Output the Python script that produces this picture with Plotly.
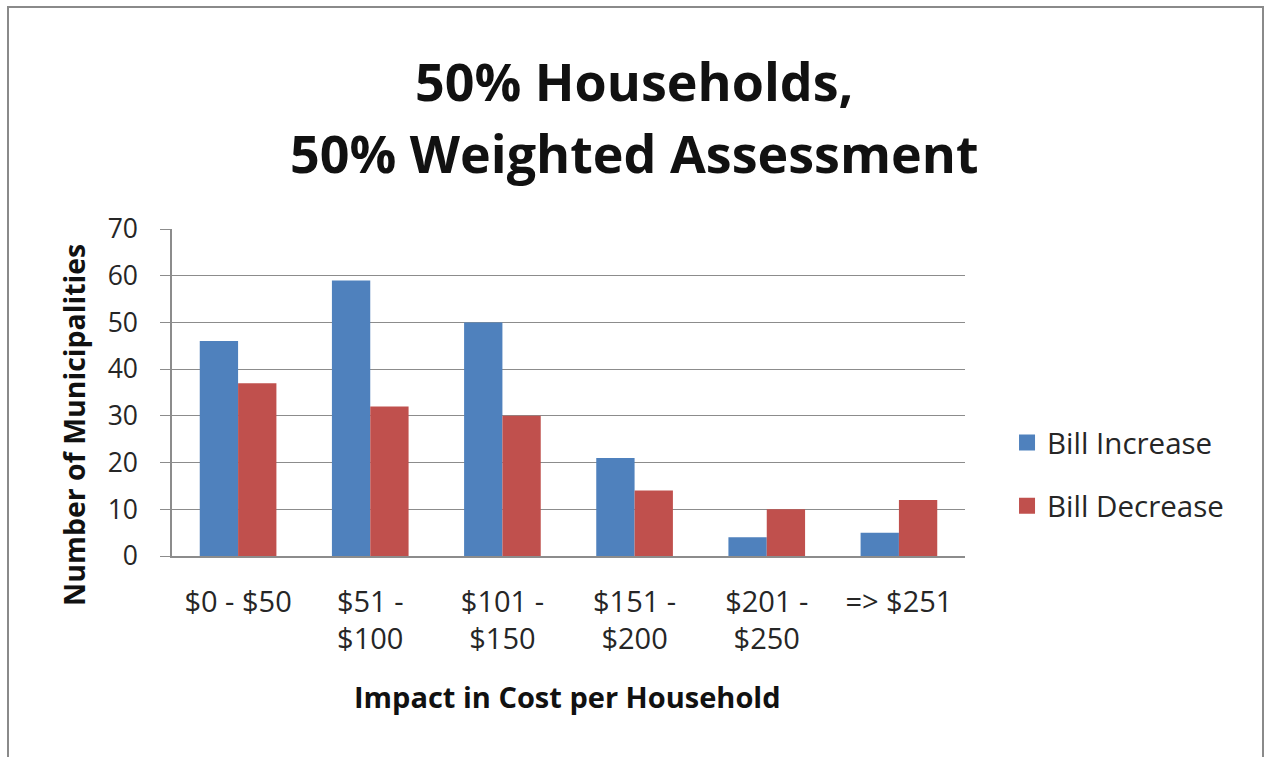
import plotly.graph_objects as go

# Cost-impact bins and municipality counts
categories = ["$0 - $50", "$51 -<br>$100", "$101 -<br>$150", "$151 -<br>$200", "$201 -<br>$250", "=> $251"]
bill_increase = [46, 59, 50, 21, 4, 5]
bill_decrease = [37, 32, 30, 14, 10, 12]
y_ticks = [0, 10, 20, 30, 40, 50, 60, 70]
series_names = ["Bill Increase", "Bill Decrease"]

FONT = "Open Sans"
BLUE = "#4F81BD"
RED = "#C0504D"
GRID = "#8C8C8C"
TEXT = "#262626"

# plot area in pixels: x 172..965, y 229..556
PL, PR, PT, PB = 172, 965, 229, 556


def px_x(x):
    return (x - PL) / (PR - PL)


def px_y(y):
    return (PB - y) / (PB - PT)


fig = go.Figure()
for name, vals, col in zip(series_names, [bill_increase, bill_decrease], [BLUE, RED]):
    fig.add_trace(go.Bar(name=name, x=categories, y=vals, showlegend=False,
                         marker=dict(color=col, line=dict(width=0))))
    # legend entry with a larger square swatch
    fig.add_trace(go.Scatter(name=name, x=[None], y=[None], mode="markers",
                             legendgroup=name, showlegend=True,
                             marker=dict(symbol="square", size=18, color=col)))

fig.update_layout(
    width=1265, height=757,
    margin=dict(l=PL, r=1265 - PR, t=PT, b=757 - PB),
    paper_bgcolor="white", plot_bgcolor="white",
    barmode="group", bargap=0.42, bargroupgap=0,
    font=dict(family=FONT, color=TEXT),
    showlegend=True,
    legend=dict(x=1.053, y=0.25, xanchor="left", yanchor="middle",
                font=dict(family=FONT, size=29.5, color=TEXT),
                tracegroupgap=22, itemwidth=30, bgcolor="rgba(0,0,0,0)"),
    xaxis=dict(
        type="category",
        showgrid=False, showline=True, linecolor=GRID, linewidth=1.5,
        ticks="", ticklabelstandoff=19,
        tickfont=dict(family=FONT, size=29, color=TEXT),
    ),
    yaxis=dict(
        range=[0, 70], tickvals=y_ticks,
        showgrid=True, gridcolor=GRID, gridwidth=1.2,
        showline=True, linecolor=GRID, linewidth=1.5,
        ticks="outside", ticklen=10, tickcolor=GRID, tickwidth=1.2,
        ticklabelstandoff=17,
        tickfont=dict(family=FONT, size=26.5, color=TEXT),
        zeroline=False,
    ),
    annotations=[
        dict(text="<b>50% Households,</b>", xref="paper", yref="paper",
             x=px_x(634), y=px_y(80), xanchor="center", yanchor="middle",
             showarrow=False, font=dict(family=FONT, size=52, color="#111111")),
        dict(text="<b>50% Weighted Assessment</b>", xref="paper", yref="paper",
             x=px_x(634), y=px_y(152), xanchor="center", yanchor="middle",
             showarrow=False, font=dict(family=FONT, size=52, color="#111111")),
        dict(text="<b>Impact in Cost per Household</b>", xref="paper", yref="paper",
             x=px_x(567), y=px_y(696), xanchor="center", yanchor="middle",
             showarrow=False, font=dict(family=FONT, size=29, color="#111111")),
        dict(text="<b>Number of Municipalities</b>", xref="paper", yref="paper",
             x=px_x(74), y=px_y(425), xanchor="center", yanchor="middle", textangle=-90,
             showarrow=False, font=dict(family=FONT, size=28.5, color="#111111")),
    ],
    shapes=[
        dict(type="rect", xref="paper", yref="paper",
             x0=px_x(8), x1=px_x(1263), y0=px_y(777), y1=px_y(7),
             line=dict(color="#8A8A8A", width=2), fillcolor="rgba(0,0,0,0)", layer="below"),
    ],
)

fig.write_html("out.html")
